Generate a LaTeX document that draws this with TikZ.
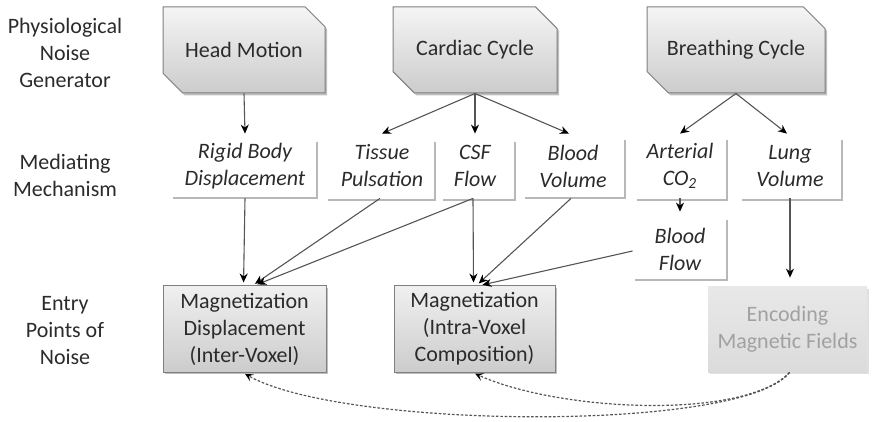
\documentclass[tikz,border=0pt]{standalone}
\usepackage{fontspec}
\setmainfont{Carlito}
\usetikzlibrary{shapes.misc,shadows,arrows.meta,calc}
\definecolor{txt}{HTML}{2B2B2B}
\definecolor{bord}{HTML}{7F7F7F}
\definecolor{ln}{HTML}{555555}
\tikzset{
  lbl/.style={align=center, text=txt, font=\fontsize{11}{13.5}\selectfont},
  gen/.style={lbl, chamfered rectangle, chamfered rectangle corners={north east,south west},
    chamfered rectangle xsep=6pt, chamfered rectangle ysep=6pt, draw=bord, line width=0.5pt,
    top color=white!96!black, bottom color=white!80!black, inner sep=0pt,
    minimum height=43pt, drop shadow={shadow xshift=1pt, shadow yshift=-1.2pt, fill=black, opacity=0.25}},
  med/.style={lbl, font=\fontsize{11}{13.5}\selectfont\itshape, minimum height=32pt, inner sep=0pt},
  entry/.style={lbl, draw=bord, line width=0.5pt, top color=white!94!black, bottom color=white!80!black,
    minimum height=43pt, inner sep=0pt, drop shadow={shadow xshift=1pt, shadow yshift=-1.2pt, fill=black, opacity=0.25}},
  shad/.style={draw=black!28, line width=0.9pt},
  arr/.style={draw=ln, line width=0.55pt, -{Stealth[length=4.5pt,width=4pt,black]}},
  darr/.style={draw=ln, line width=0.6pt, dash pattern=on 1.3pt off 0.9pt, -{Stealth[length=4pt,width=4pt,black,inset=1.8pt]}}
}
\begin{document}
\begin{tikzpicture}[x=0.5pt,y=-0.5pt]
\useasboundingbox (0,0) rectangle (873,422);
% row labels
\node[lbl] (r1) at (65,53) {Physiological\\Noise\\Generator};
\node[lbl] (r2) at (65,175) {Mediating\\Mechanism};
\node[lbl] (r3) at (65,331) {Entry\\Points of\\Noise};
% generators
\node[gen, minimum width=81pt] (hm) at (244,50) {Head Motion};
\node[gen, minimum width=82pt] (cc) at (475,50) {Cardiac Cycle};
\node[gen, minimum width=89pt] (bc) at (736,50) {Breathing Cycle};
% mediating mechanisms
\node[med, minimum width=72pt] (rb) at (245,166) {Rigid Body\\Displacement};
\node[med, minimum width=53pt] (tp) at (382,166) {Tissue\\Pulsation};
\node[med, minimum width=40pt] (csf) at (475,166) {CSF\\Flow};
\node[med, minimum width=52pt] (bv) at (573,166) {Blood\\Volume};
\node[med, minimum width=47pt] (ac) at (680,166) {Arterial\\CO\textsubscript{2}};
\node[med, minimum width=52pt] (lv) at (790,166) {Lung\\Volume};
\node[med, minimum width=47pt, minimum height=31pt] (bf) at (680,249) {Blood\\Flow};
% shadows of mediating boxes
\draw[shad] (317,142) -- (317,198) -- (173,198);
\draw[shad] (435,142) -- (435,200) -- (328,200);
\draw[shad] (515,142) -- (515,200) -- (443,200);
\draw[shad] (625,140) -- (625,198) -- (525,198);
\draw[shad] (727,140) -- (727,200) -- (637,200);
\draw[shad] (842,140) -- (842,200) -- (742,200);
\draw[shad] (727,220) -- (727,280) -- (635,280);
% entry points
\node[entry, minimum width=81.5pt] (md) at (244.5,329) {Magnetization\\Displacement\\(Inter-Voxel)};
\node[entry, minimum width=80.5pt] (mi) at (474.5,329) {Magnetization\\(Intra-Voxel\\Composition)};
\node[lbl, text=black!37, top color=white!91!black, bottom color=white!86!black, minimum width=79.5pt,
  minimum height=42.5pt, inner sep=0pt, drop shadow={shadow xshift=0.8pt, shadow yshift=-1pt, fill=black, opacity=0.12}]
  (enc) at (787.5,329.5) {Encoding\\Magnetic Fields};
% generator to mechanism
\draw[arr] (hm.south) -- (rb.north);
\draw[arr] (cc.south) -- (tp.north);
\draw[arr] (cc.south) -- (csf.north);
\draw[arr] (cc.south) -- ([xshift=-2pt]bv.north);
\draw[arr] (bc.south) -- (ac.north);
\draw[arr] (bc.south) -- ([xshift=-1.5pt]lv.north);
\draw[arr, shorten >=3pt] (ac.south) -- (bf.north);
% mechanism to entry
\draw[arr, shorten >=1.5pt] (rb.south) -- ([xshift=-0.5pt]md.north);
\draw[arr, shorten >=1.5pt] ([xshift=-1pt]tp.south) -- ([xshift=4pt]md.north);
\draw[arr, shorten >=1.5pt] ([xshift=-1pt]csf.south) -- ([xshift=5pt]md.north);
\draw[arr, shorten >=1.5pt] ([xshift=-1pt]csf.south) -- ([xshift=-0.5pt]mi.north);
\draw[arr, shorten >=1.5pt] ([xshift=-1pt]bv.south) -- ([xshift=1pt]mi.north);
\draw[arr, shorten >=1.5pt] ([yshift=-1pt]bf.west) -- ([xshift=2.5pt]mi.north);
\draw[arr, shorten >=4.5pt] (lv.south) -- (lv.south |- enc.north);
% dashed feedback
\coordinate (e0) at ([xshift=1pt]enc.south);
\draw[darr, shorten >=1.5pt] (e0) .. controls (745,432) and (345,430) .. ([xshift=-1pt]md.south);
\draw[darr, shorten >=1.5pt] (e0) .. controls (745,420) and (560,412) .. ([xshift=-1pt]mi.south);
\end{tikzpicture}
\end{document}
